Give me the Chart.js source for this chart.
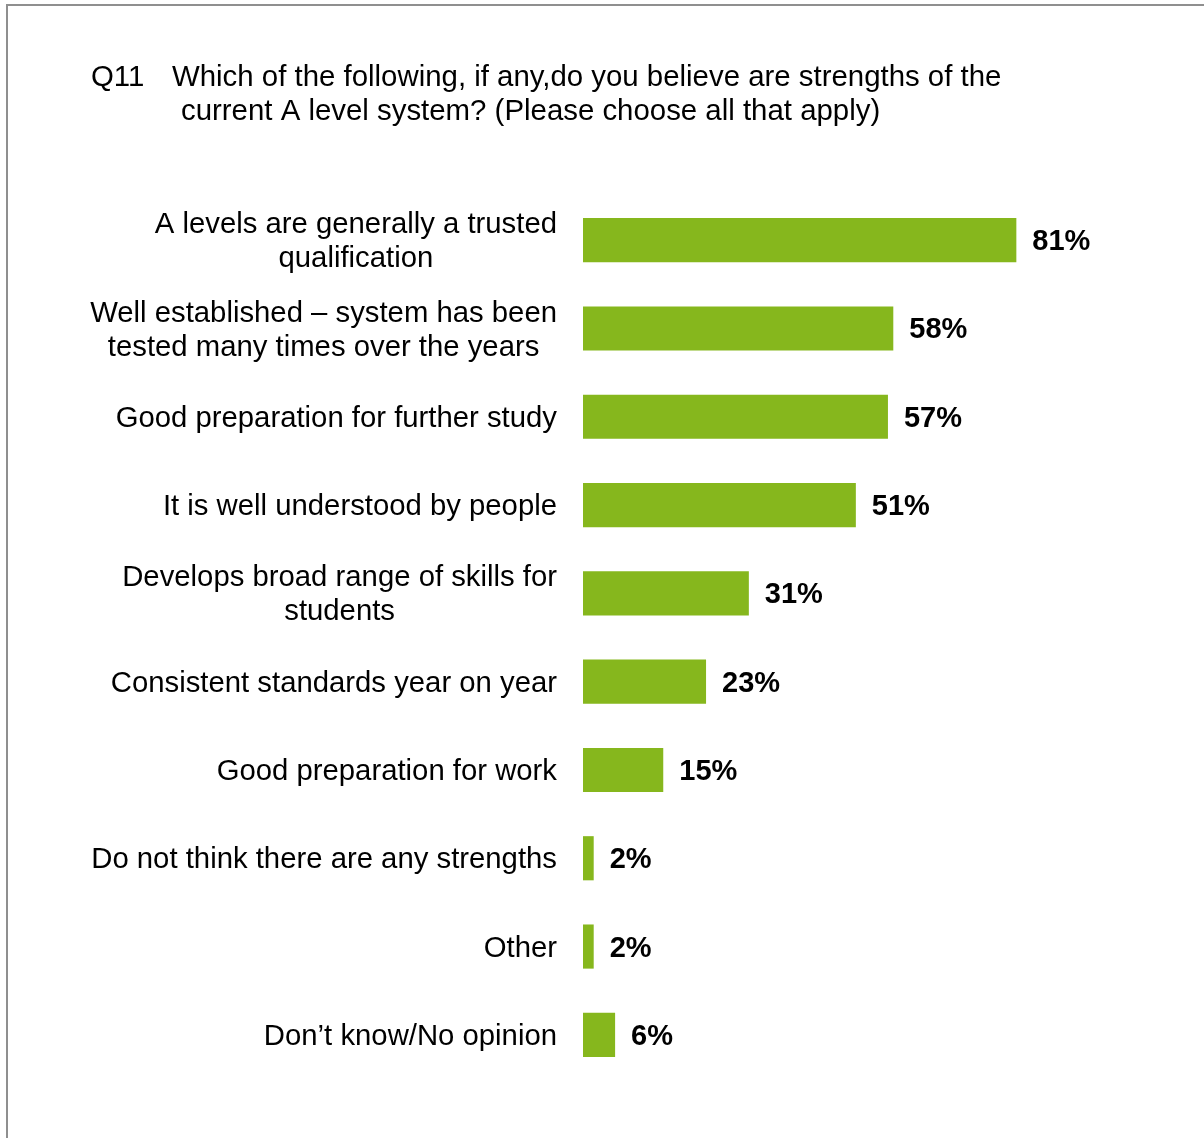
<!DOCTYPE html>
<html>
<head>
<meta charset="utf-8">
<script src="https://cdn.jsdelivr.net/npm/chart.js@4/dist/chart.umd.min.js"></script>
<style>
  body { margin: 0; background: #fff; }
  #wrap { position: relative; width: 1204px; height: 1138px; overflow: hidden; }
  #frame {
    position: absolute; left: 6px; top: 4px; width: 1300px; height: 1300px;
    border-top: 2px solid #8f8f8f; border-left: 2px solid #8f8f8f;
  }
  #chart { position: absolute; left: 0; top: 0; }
</style>
</head>
<body>
<div id="wrap">
  <div id="frame"></div>
  <canvas id="chart" width="1204" height="1138"></canvas>
</div>
<script>
const titleLines = [
  ["Q11", "Which of the following, if any,do you believe are strengths of the"],
  ["", "current A level system? (Please choose all that apply)"]
];

const categories = [
  ["A levels are generally a trusted", "qualification"],
  ["Well established \u2013 system has been", "tested many times over the years"],
  ["Good preparation for further study"],
  ["It is well understood by people"],
  ["Develops broad range of skills for", "students"],
  ["Consistent standards year on year"],
  ["Good preparation for work"],
  ["Do not think there are any strengths"],
  ["Other"],
  ["Don\u2019t know/No opinion"]
];

const percentages = [81, 58, 57, 51, 31, 23, 15, 2, 2, 6];

const FONT = '"Liberation Sans", Arial, sans-serif';

// question text at the top, plus category names and value labels beside the bars
const labelPlugin = {
  id: "labels",
  afterDatasetsDraw(chart) {
    const ctx = chart.ctx;
    const yScale = chart.scales.y;
    const xScale = chart.scales.x;
    ctx.save();
    ctx.fillStyle = "#000";
    ctx.textBaseline = "middle";

    ctx.font = "29.4px " + FONT;
    ctx.textAlign = "left";
    ctx.fillText(titleLines[0][0], 91, 78);
    ctx.fillText(titleLines[0][1], 172, 78);
    ctx.fillText(titleLines[1][1], 181, 112);

    const lineGap = 34;
    const rightEdge = 557;
    categories.forEach((lines, i) => {
      const yc = yScale.getPixelForValue(i);
      ctx.font = "29.3px " + FONT;
      const blockW = Math.max(...lines.map(l => ctx.measureText(l).width));
      const cx = rightEdge - blockW / 2;
      ctx.textAlign = "center";
      const top = yc + 2 - (lines.length - 1) * lineGap / 2;
      lines.forEach((l, k) => ctx.fillText(l, cx, top + k * lineGap));

      ctx.font = "bold 29px " + FONT;
      ctx.textAlign = "left";
      ctx.fillText(percentages[i] + "%", xScale.getPixelForValue(percentages[i]) + 16, yc + 2);
    });
    ctx.restore();
  }
};

new Chart(document.getElementById("chart"), {
  type: "bar",
  data: {
    labels: categories,
    datasets: [{
      data: percentages,
      backgroundColor: "#86b71d",
      categoryPercentage: 1,
      barPercentage: 0.5
    }]
  },
  options: {
    indexAxis: "y",
    responsive: false,
    animation: false,
    layout: { padding: { left: 583, right: 86, top: 196, bottom: 59 } },
    scales: {
      x: { display: false, min: 0, max: 100 },
      y: { display: false }
    },
    plugins: {
      legend: { display: false },
      tooltip: { enabled: false }
    }
  },
  plugins: [labelPlugin]
});
</script>
</body>
</html>
